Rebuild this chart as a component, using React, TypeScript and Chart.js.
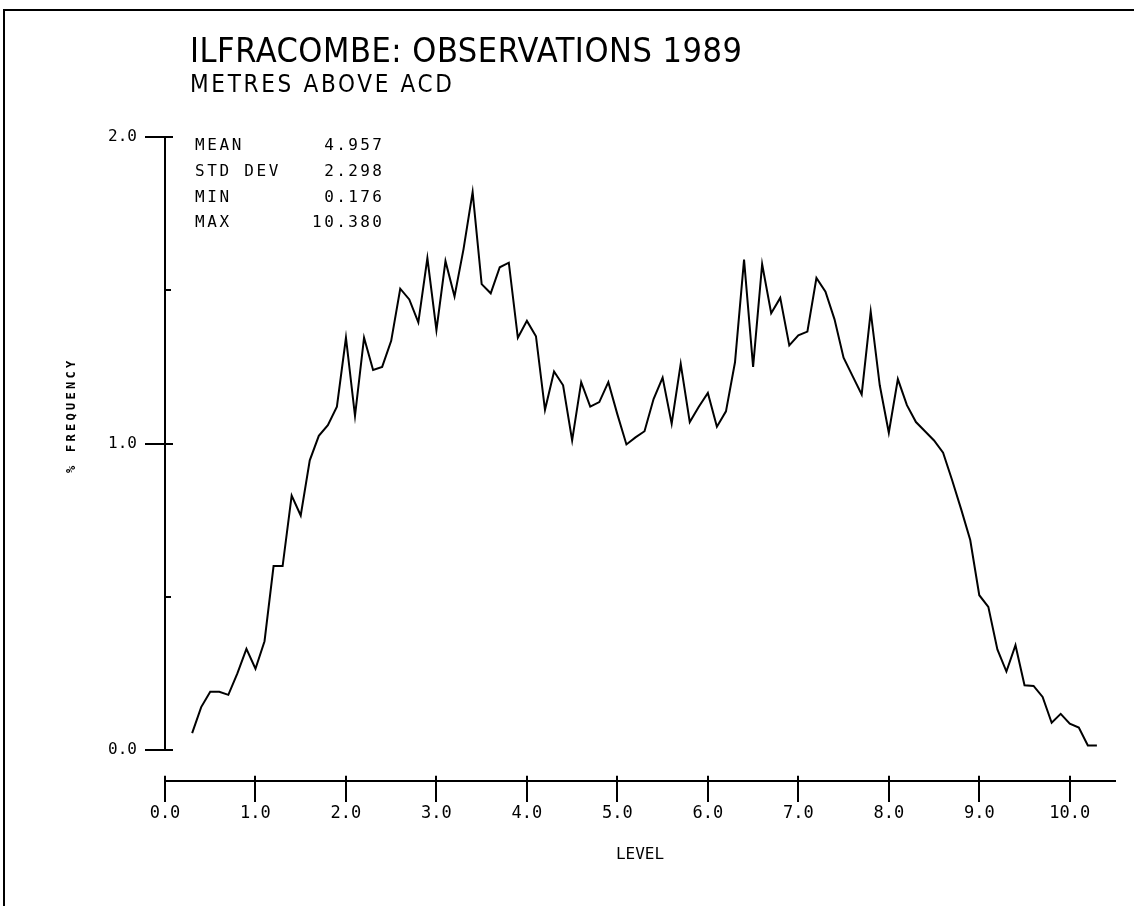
import React, { useEffect, useRef } from "react";
import { Chart, registerables } from "chart.js";

Chart.register(...registerables);

// ---- data ----
const LEVELS = [
  0.3, 0.4, 0.5, 0.6, 0.7, 0.8, 0.9,
  1.0, 1.1, 1.2, 1.3, 1.4, 1.5, 1.6, 1.7, 1.8, 1.9,
  2.0, 2.1, 2.2, 2.3, 2.4, 2.5, 2.6, 2.7, 2.8, 2.9,
  3.0, 3.1, 3.2, 3.3, 3.4, 3.5, 3.6, 3.7, 3.8, 3.9,
  4.0, 4.1, 4.2, 4.3, 4.4, 4.5, 4.6, 4.7, 4.8, 4.9,
  5.0, 5.1, 5.2, 5.3, 5.4, 5.5, 5.6, 5.7, 5.8, 5.9,
  6.0, 6.1, 6.2, 6.3, 6.4, 6.5, 6.6, 6.7, 6.8, 6.9,
  7.0, 7.1, 7.2, 7.3, 7.4, 7.5, 7.6, 7.7, 7.8, 7.9,
  8.0, 8.1, 8.2, 8.3, 8.4, 8.5, 8.6, 8.7, 8.8, 8.9,
  9.0, 9.1, 9.2, 9.3, 9.4, 9.5, 9.6, 9.7, 9.8, 9.9,
  10.0, 10.1, 10.2, 10.3,
];

const FREQUENCY = [
  0.055, 0.14, 0.19, 0.19, 0.18, 0.25, 0.33,
  0.265, 0.355, 0.6, 0.6, 0.83, 0.765, 0.945, 1.025, 1.06, 1.12,
  1.345, 1.09, 1.345, 1.24, 1.25, 1.335, 1.505, 1.47, 1.395, 1.605,
  1.37, 1.595, 1.48, 1.635, 1.82, 1.52, 1.49, 1.575, 1.59, 1.345,
  1.4, 1.35, 1.11, 1.235, 1.19, 1.01, 1.2, 1.12, 1.135, 1.2,
  1.095, 0.997, 1.02, 1.04, 1.145, 1.215, 1.065, 1.26, 1.07, 1.12,
  1.165, 1.055, 1.105, 1.265, 1.6, 1.25, 1.585, 1.425, 1.475, 1.32,
  1.353, 1.365, 1.54, 1.495, 1.405, 1.28, 1.22, 1.16, 1.43, 1.19,
  1.035, 1.21, 1.125, 1.07, 1.04, 1.01, 0.97, 0.88, 0.785, 0.685,
  0.505, 0.467, 0.328, 0.256, 0.342, 0.211, 0.209, 0.173, 0.089, 0.118,
  0.086, 0.073, 0.015, 0.015,
];

const TITLE = "ILFRACOMBE: OBSERVATIONS 1989";
const SUBTITLE = "METRES ABOVE ACD";
const STAT_LABELS = ["MEAN", "STD DEV", "MIN", "MAX"];
const STAT_VALUES = ["4.957", "2.298", "0.176", "10.380"];
const X_TITLE = "LEVEL";
const Y_TITLE = "% FREQUENCY";

const X_MIN = 0;
const X_MAX = 10.5;
const X_STEP = 1;
const Y_MIN = 0;
const Y_MAX = 2;
const Y_STEP = 0.5;
const X_AXIS_AT = -0.1; // x axis sits detached below the 0.0 level

const MONO = '"DejaVu Sans Mono", "Liberation Mono", monospace';
const NARROW = '"Liberation Sans Narrow", "DejaVu Sans Condensed", "DejaVu Sans", sans-serif';

function drawSpaced(
  ctx: CanvasRenderingContext2D,
  text: string,
  x: number,
  y: number,
  font: string,
  targetWidth: number,
  align: "left" | "right" = "left"
) {
  ctx.font = font;
  (ctx as any).letterSpacing = "0px";
  const w0 = ctx.measureText(text).width;
  const n = text.length;
  const ls = n > 1 ? (targetWidth - w0) / (n - 1) : 0;
  (ctx as any).letterSpacing = ls + "px";
  ctx.textAlign = "left";
  const startX = align === "left" ? x : x - targetWidth;
  ctx.fillText(text, startX, y);
  (ctx as any).letterSpacing = "0px";
}

const decorPlugin = {
  id: "decor",
  afterDraw(chart: any) {
    const ctx: CanvasRenderingContext2D = chart.ctx;
    const xs = chart.scales.x;
    const ys = chart.scales.y;
    ctx.save();
    // inner tick stubs
    ctx.strokeStyle = "#000";
    ctx.lineWidth = 2;
    ctx.beginPath();
    ys.ticks.forEach((t: any) => {
      const py = Math.round(ys.getPixelForValue(t.value));
      const major = Number.isInteger(t.value);
      ctx.moveTo(ys.right, py);
      ctx.lineTo(ys.right + (major ? 8 : 6), py);
    });
    const axisY = ys.getPixelForValue(X_AXIS_AT);
    xs.ticks.forEach((t: any) => {
      const px = Math.round(xs.getPixelForValue(t.value));
      ctx.moveTo(px, axisY);
      ctx.lineTo(px, axisY - 5);
    });
    ctx.stroke();

    // texts
    ctx.fillStyle = "#000";
    ctx.textBaseline = "alphabetic";
    drawSpaced(ctx, TITLE, 190, 62, "34px " + NARROW, 552);
    drawSpaced(ctx, SUBTITLE, 190, 92, "24px " + NARROW, 262);

    const rowBase = [150, 176, 202, 227];
    STAT_LABELS.forEach((lab, i) => {
      drawSpaced(ctx, lab, 195, rowBase[i], "16px " + MONO, lab.length * 12.3 - 2.7);
    });
    STAT_VALUES.forEach((val, i) => {
      drawSpaced(ctx, val, 382, rowBase[i], "16px " + MONO, val.length * 12.1 - 2.7, "right");
    });

    // y axis title, rotated
    ctx.save();
    ctx.translate(75, 417);
    ctx.rotate(-Math.PI / 2);
    const yt = Y_TITLE;
    const tw = yt.length * 10.5 - 3.3;
    drawSpaced(ctx, yt, -tw / 2, 0, "bold 12px " + MONO, tw);
    ctx.restore();

    ctx.restore();
  },
};

export default function App() {
  const canvasRef = useRef<HTMLCanvasElement | null>(null);

  useEffect(() => {
    const canvas = canvasRef.current;
    if (!canvas) return;
    const points = LEVELS.map((lv, i) => ({ x: lv, y: FREQUENCY[i] }));
    const chart = new Chart(canvas, {
      type: "line",
      data: {
        datasets: [
          {
            label: "% frequency",
            data: points,
            borderColor: "#000",
            borderWidth: 2,
            pointRadius: 0,
            tension: 0,
            fill: false,
          },
        ],
      },
      options: {
        animation: false,
        responsive: false,
        devicePixelRatio: 1,
        layout: { padding: { left: 0, top: 137, right: 19, bottom: 156 } },
        plugins: {
          legend: { display: false },
          tooltip: { enabled: false },
          title: { display: false },
        },
        scales: {
          x: {
            type: "linear",
            min: X_MIN,
            max: X_MAX,
            position: { y: X_AXIS_AT } as any,
            ticks: {
              stepSize: X_STEP,
              includeBounds: false,
              autoSkip: false,
              maxRotation: 0,
              padding: 3,
              color: "#000",
              font: { family: MONO, size: 17 },
              callback: (v: any) => Number(v).toFixed(1),
            },
            grid: {
              drawOnChartArea: false,
              tickLength: 20,
              tickColor: "#000",
              lineWidth: 2,
              color: "#000",
            },
            border: { display: true, color: "#000", width: 2 },
            title: {
              display: true,
              text: X_TITLE,
              color: "#000",
              font: { family: MONO, size: 16 },
              padding: { top: 18, bottom: 0 },
            },
          },
          y: {
            type: "linear",
            min: Y_MIN,
            max: Y_MAX,
            ticks: {
              stepSize: Y_STEP,
              padding: 8,
              color: "#000",
              font: { family: MONO, size: 16 },
              callback: (v: any) => (Number.isInteger(Number(v)) ? Number(v).toFixed(1) : ""),
            },
            grid: {
              drawOnChartArea: false,
              tickLength: 20,
              lineWidth: 2,
              tickColor: (c: any) =>
                c.tick && Number.isInteger(c.tick.value) ? "#000" : "rgba(0,0,0,0)",
            },
            border: { display: true, color: "#000", width: 2 },
            afterFit: (s: any) => {
              s.width = 165;
            },
          },
        },
      },
      plugins: [decorPlugin],
    });
    return () => chart.destroy();
  }, []);

  return (
    <div
      style={{
        position: "fixed",
        left: 0,
        top: 0,
        width: 1134,
        height: 906,
        background: "#fff",
        overflow: "hidden",
      }}
    >
      <div
        style={{
          position: "absolute",
          left: 3,
          top: 9,
          width: 1131,
          height: 897,
          borderTop: "2px solid #000",
          borderLeft: "2px solid #000",
          boxSizing: "border-box",
        }}
      />
      <canvas
        ref={canvasRef}
        width={1134}
        height={906}
        style={{ position: "absolute", left: 0, top: 0, width: 1134, height: 906, display: "block" }}
      />
    </div>
  );
}
